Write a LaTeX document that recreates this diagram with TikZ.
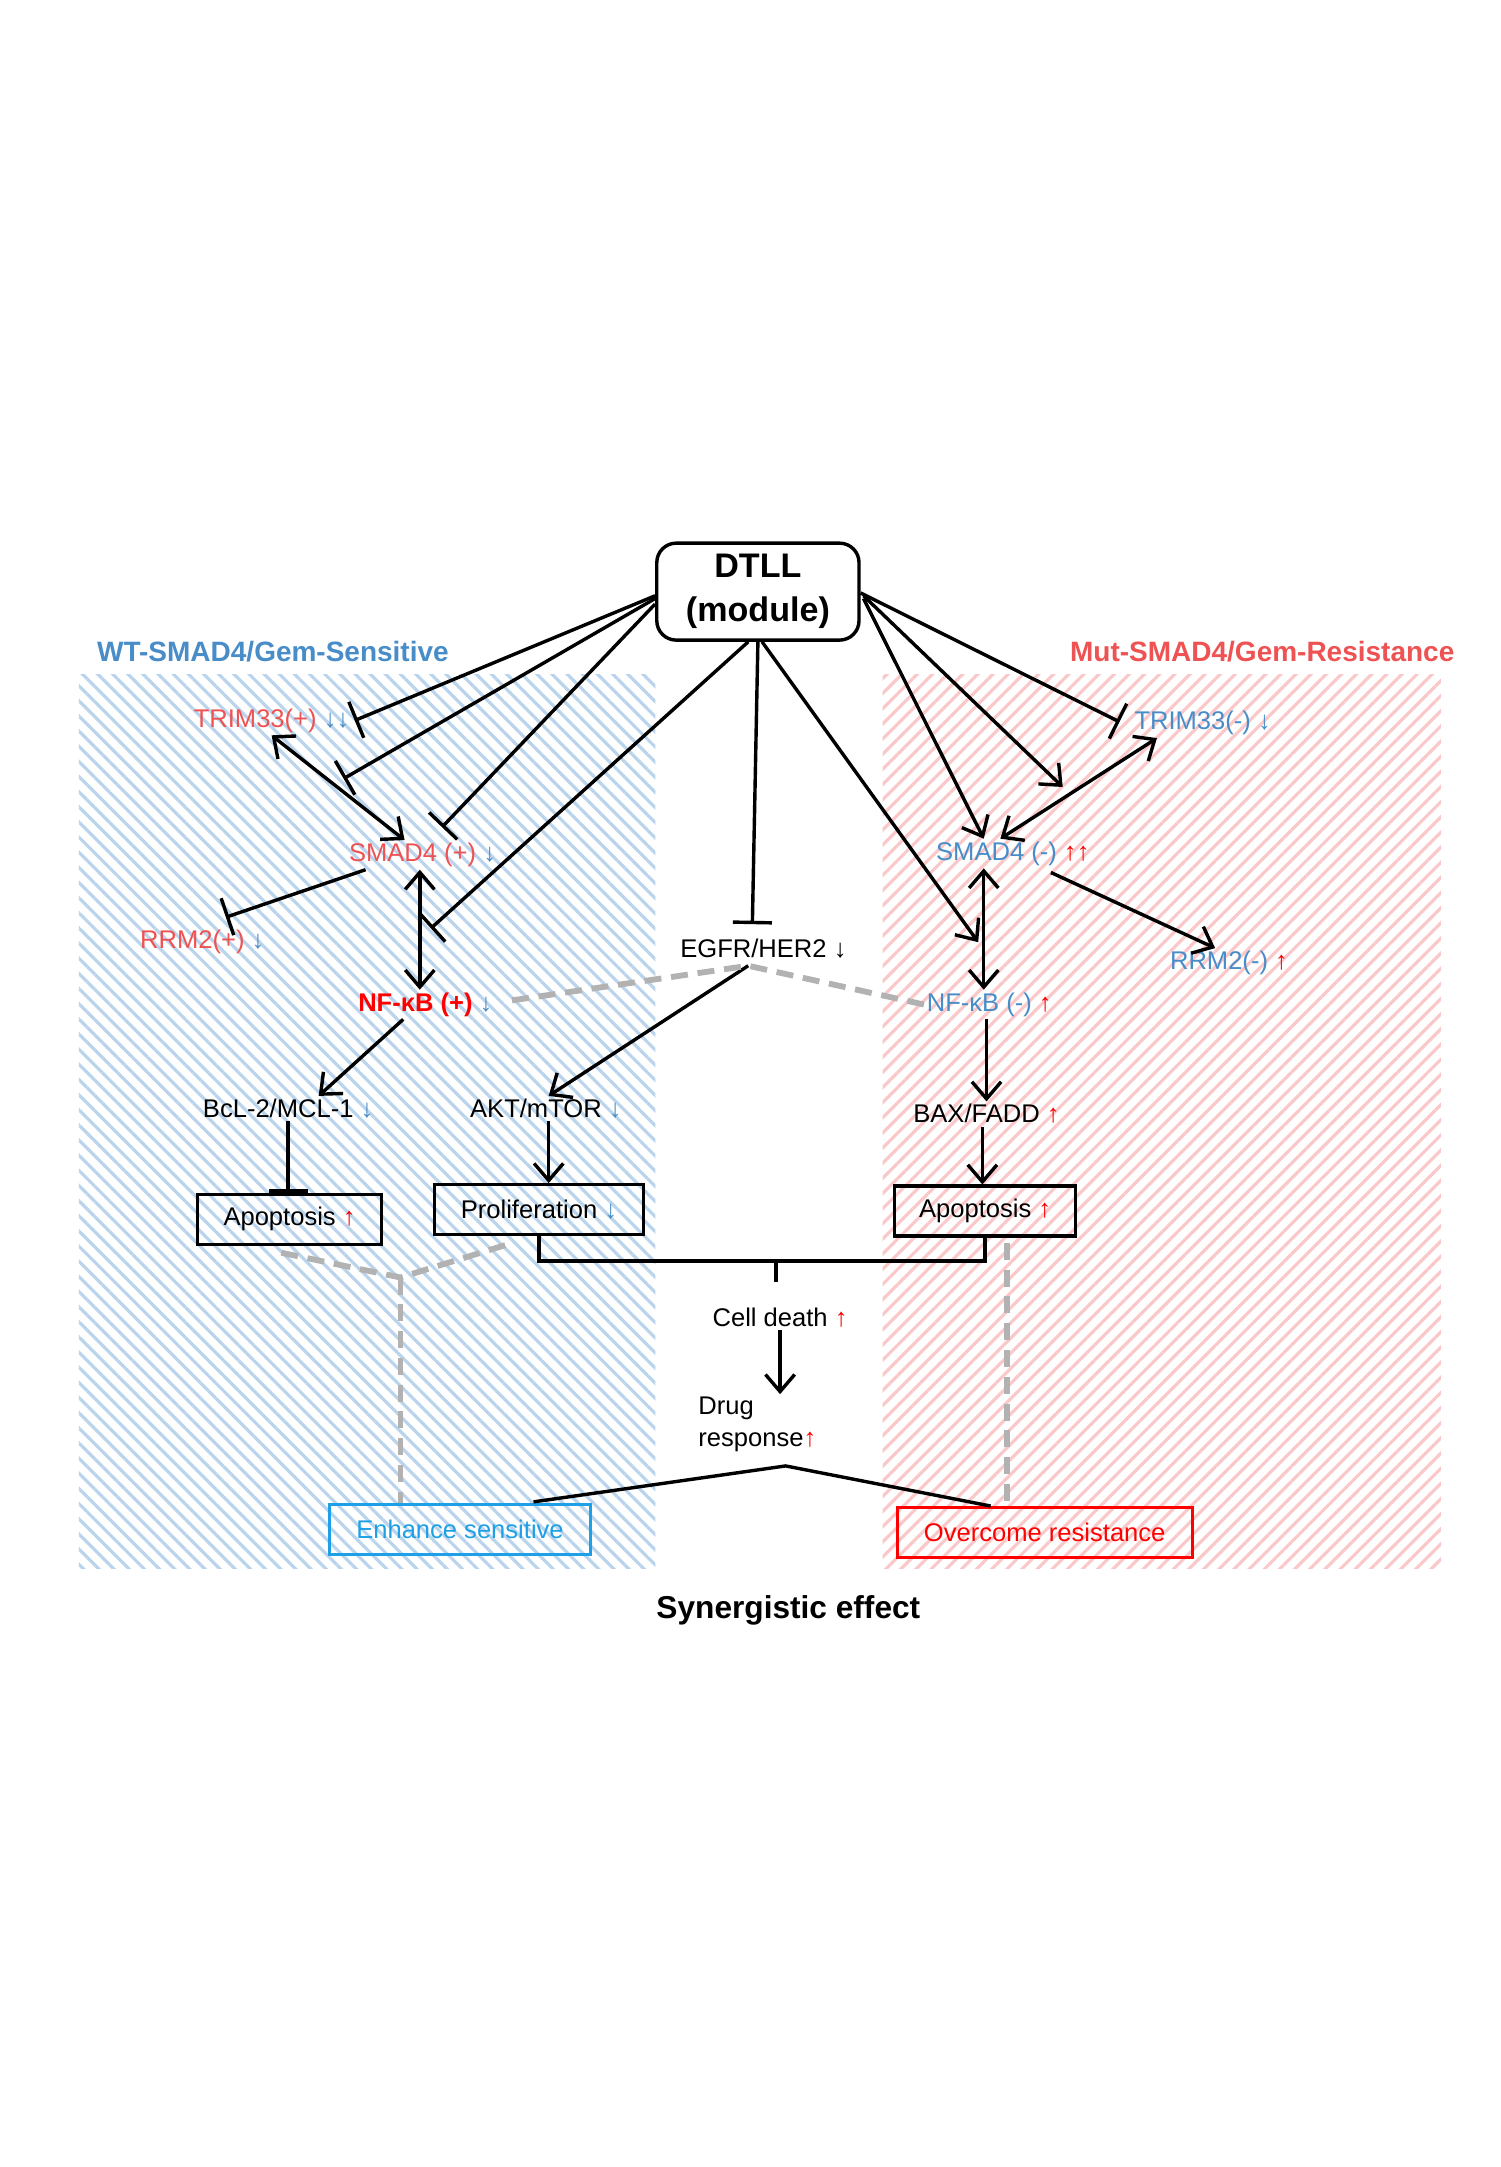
\documentclass[tikz,border=0pt]{standalone}
\usepackage{fontspec}
\setmainfont{Liberation Sans}
\usetikzlibrary{arrows.meta,patterns.meta}
\definecolor{tred}{RGB}{238,82,82}
\definecolor{tblue}{RGB}{72,140,200}
\definecolor{hblue}{RGB}{185,212,236}
\definecolor{hpink}{RGB}{250,200,200}
\definecolor{ebox}{RGB}{30,160,230}
\newcommand{\dnar}[1]{{\color{#1}\char"2193}}
\newcommand{\upar}[1]{{\color{#1}\char"2191}}
\tikzset{
  txt/.style={font=\fontsize{10.5}{13}\selectfont, inner sep=1pt},
  box/.style={txt, draw, line width=1.3pt, minimum height=0.72cm, inner xsep=6pt},
  act/.style={line width=1.4pt, -{Straight Barb[length=7pt,width=12pt]}},
  both/.style={line width=1.4pt, {Straight Barb[length=7pt,width=12pt]}-{Straight Barb[length=7pt,width=12pt]}},
  inh/.style={line width=1.4pt, -{Bar[width=16pt]}},
  link/.style={line width=1.4pt},
  gdash/.style={line width=2.4pt, gray!60, dash pattern=on 7pt off 4pt}
}
\begin{document}
\begin{tikzpicture}[x=0.02cm,y=-0.02cm]
\useasboundingbox (0,0) rectangle (1083,1564);
% hatched backgrounds
\fill [pattern={Lines[angle=-45,distance=4.4pt,line width=1.3pt]}, pattern color=hblue] (57,487) rectangle (473,1132);
\fill [pattern={Lines[angle=45,distance=4.4pt,line width=1.3pt]}, pattern color=hpink] (637,487) rectangle (1040,1132);

\node [draw, rounded corners=8pt, line width=1.4pt, minimum width=2.92cm, minimum height=1.4cm, align=center,
  font=\bfseries\fontsize{14}{18}\selectfont] (dtll) at (547,427) {DTLL\\(module)};
\node [txt, font=\bfseries\fontsize{11.5}{14}\selectfont, text=tblue] (wt) at (197,470) {WT-SMAD4/Gem-Sensitive};
\node [txt, font=\bfseries\fontsize{11.5}{14}\selectfont, text=tred] (mut) at (911,470) {Mut-SMAD4/Gem-Resistance};

% left side
\node [txt] (trimp) at (196,520) {\textcolor{tred}{TRIM33(+)} \dnar{tblue}\dnar{tblue}};
\node [txt] (smadp) at (305,617) {\textcolor{tred}{SMAD4 (+)} \dnar{tblue}};
\node [txt] (rrmp) at (146,680) {\textcolor{tred}{RRM2(+)} \dnar{tblue}};
\node [txt] (nfkbp) at (307,725) {\textcolor{red}{\bfseries NF-κB (+)} \dnar{tblue}};
\node [txt] (bcl) at (208,800) {BcL-2/MCL-1 \dnar{tblue}};
\node [txt] (akt) at (394,800) {AKT/mTOR \dnar{tblue}};
\node [box, minimum width=2.66cm] (apol) at (209,880) {Apoptosis \upar{red}};
\node [box, minimum width=3.02cm] (prol) at (389,873) {Proliferation \dnar{tblue}};

% middle
\node [txt] (egfr) at (551,685) {EGFR/HER2 \dnar{black}};
\node [txt] (death) at (563,951) {Cell death \upar{red}};
\node [txt, align=left, anchor=west] (drug) at (502,1028) {Drug\\response\upar{red}};
\node [box, draw=ebox, text=ebox, line width=1.2pt, minimum width=3.76cm] (enh) at (332,1104) {Enhance sensitive};
\node [box, draw=red, text=red, line width=1.2pt, minimum width=4.26cm] (over) at (754,1106) {Overcome resistance};
\node [txt, font=\bfseries\fontsize{13}{16}\selectfont] (syn) at (569,1162) {Synergistic effect};

% right side
\node [txt] (trimm) at (868,522) {\textcolor{tblue}{TRIM33(-)} \dnar{tblue}};
\node [txt] (smadm) at (731,616) {\textcolor{tblue}{SMAD4 (-)} \upar{red}\upar{red}};
\node [txt] (rrmm) at (887,695) {\textcolor{tblue}{RRM2(-)} \upar{red}};
\node [txt] (nfkbm) at (714,725) {\textcolor{tblue}{NF-κB (-)} \upar{red}};
\node [txt] (bax) at (712,804) {BAX/FADD \upar{red}};
\node [box, minimum width=2.62cm] (apor) at (711,874) {Apoptosis \upar{red}};

% free ends
\coordinate (t1) at (256,520);
\coordinate (t2) at (248,562);
\coordinate (t3) at (319,597);
\coordinate (t4) at (311,670);
\coordinate (t5) at (808,521);
\coordinate (t6) at (767,568);
\coordinate (t7) at (163,662);
\coordinate (t8) at (706,680);
\coordinate (t9) at (543,667);
\coordinate (eg) at (540,697);
\coordinate (gl) at (289,922);
\coordinate (gp) at (370,897);
\coordinate (gr) at (727,897);
\coordinate (br) at (560,910);
\coordinate (dr) at (567,1058);

% DTLL connectors
\draw [inh] (dtll.west) ++(0,3) -- (t1);
\draw [inh] (dtll.west) ++(0,5) -- (t2);
\draw [inh] (dtll.west) ++(0,9) -- (t3);
\draw [inh] (dtll.south) ++(-7,0) -- (t4);
\draw [inh] (dtll.south) -- (t9);
\draw [inh] (dtll.east) ++(0,1) -- (t5);
\draw [act] (dtll.east) ++(2,3) -- (t6);
\draw [act] (dtll.east) ++(2,5) -- (smadm.north -| 710,0);
\draw [act] (dtll.south) ++(3,0) -- (t8);

% left network
\draw [both] (trimp.south) -- (smadp.north -| 292,0);
\draw [inh] (smadp.south west) ++(14,0) -- (t7);
\draw [both] (smadp.south -| 303,0) -- (nfkbp.north -| 303,0);
\draw [act] (nfkbp.south -| 291,0) -- (bcl.north -| 230,0);
\draw [act] (eg) -- (akt.north -| 396,0);
\draw [inh] (bcl.south -| 208,0) -- (apol.north -| 208,0);
\draw [act] (akt.south -| 396,0) -- (prol.north -| 396,0);

% right network
\draw [both] (smadm.north -| 722,0) -- (trimm.south -| 835,0);
\draw [both] (smadm.south -| 710,0) -- (nfkbm.north -| 710,0);
\draw [act] (smadm.south east) ++(-30,3) -- (rrmm.north -| 877,0);
\draw [act] (nfkbm.south -| 712,0) -- (bax.north -| 712,0);
\draw [act] (bax.south -| 709,0) -- (apor.north -| 709,0);

% outcome
\draw [link] (prol.south) -- (br -| prol.south) -- (br -| apor.south) -- (apor.south);
\draw [link] (br) -- ++(0,15);
\draw [act] (death.south -| 563,0) -- (drug.north -| 563,0);
\draw [link] (enh.north east) ++(-42,-1) -- (dr) -- (over.north -| 715,0);

% grey dashed links
\draw [gdash] (nfkbp.east) ++(12,-3) -- (eg) -- (nfkbm.west);
\draw [gdash] (apol.south) ++(-6,5) -- (gl) -- (gp);
\draw [gdash] (gl) -- (enh.north -| gl);
\draw [gdash] (gr) -- (over.north -| gr);
\end{tikzpicture}
\end{document}
